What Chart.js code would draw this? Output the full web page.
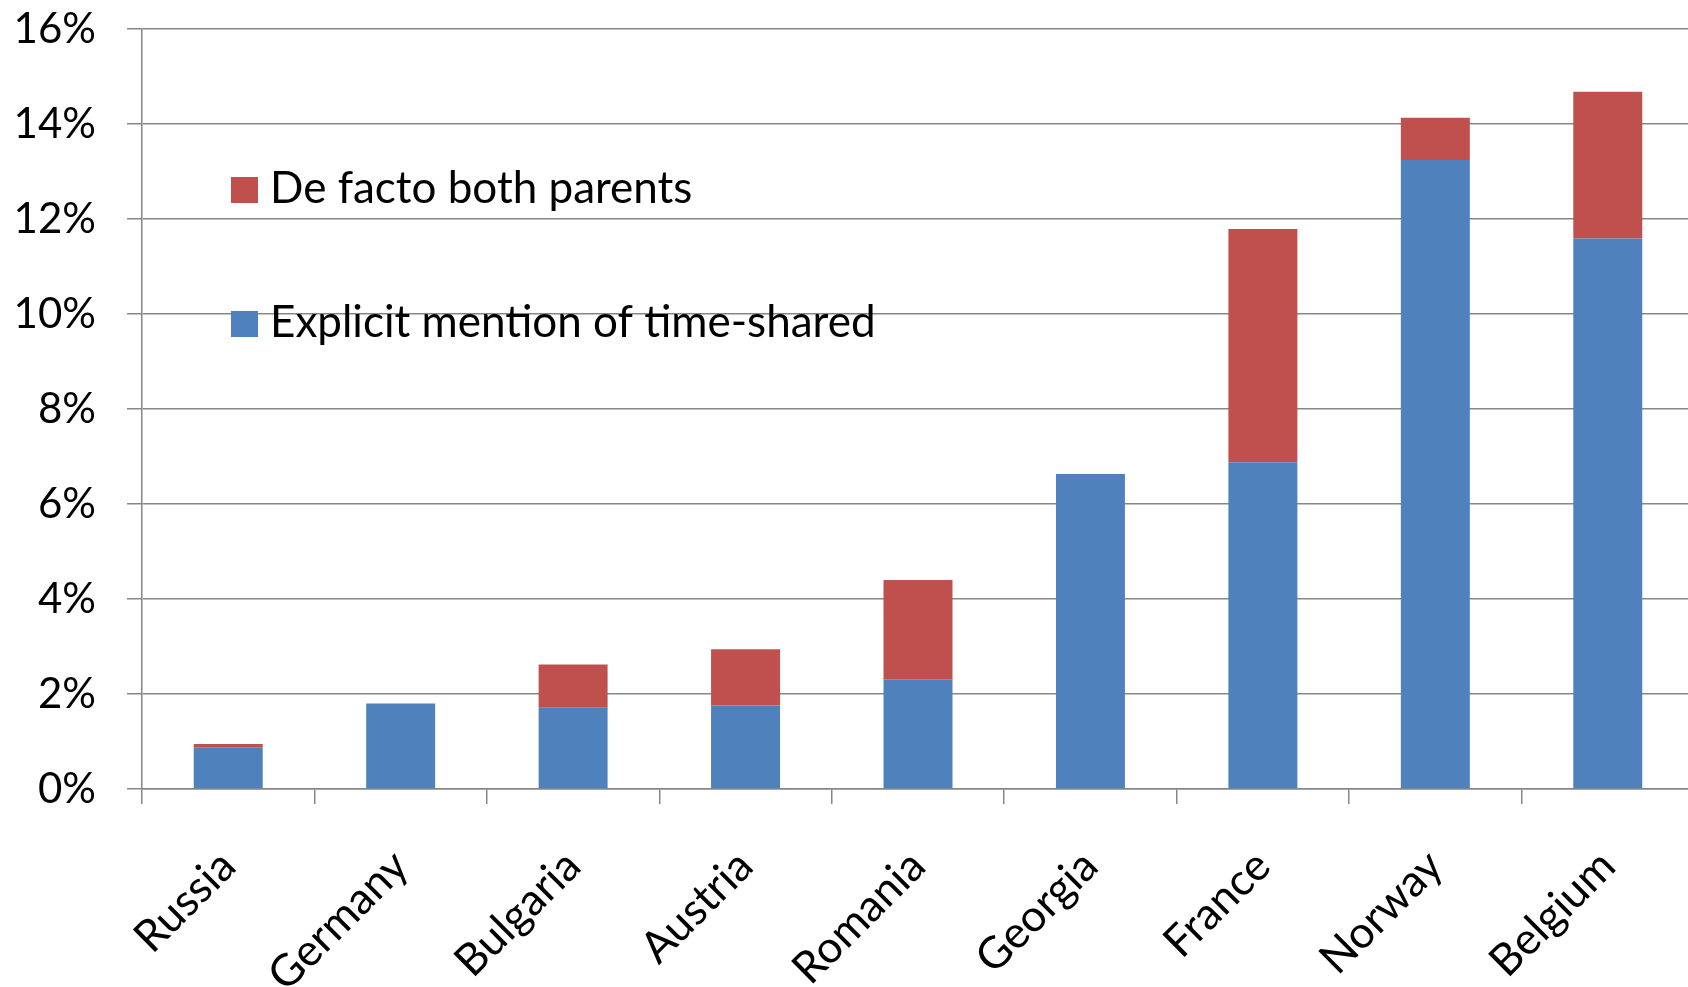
<!DOCTYPE html>
<html>
<head>
<meta charset="utf-8">
<script src="https://cdn.jsdelivr.net/npm/chart.js@4.4.1/dist/chart.umd.min.js"></script>
<style>
  html, body { margin: 0; padding: 0; background: #fff; overflow: hidden; }
  canvas { display: block; }
</style>
</head>
<body>
<canvas id="chart" width="1694" height="987"></canvas>
<script>
// Share of custody arrangements by country (percent)
const categories = ['Russia', 'Germany', 'Bulgaria', 'Austria', 'Romania', 'Georgia', 'France', 'Norway', 'Belgium'];
const explicitShare = [0.87, 1.80, 1.71, 1.76, 2.31, 6.63, 6.88, 13.24, 11.59];
const deFactoShare = [0.08, 0, 0.91, 1.18, 2.09, 0, 4.91, 0.89, 3.09];
const yTickLabels = ['0%', '2%', '4%', '6%', '8%', '10%', '12%', '14%', '16%'];

const FONT = 'Lato, "Open Sans", sans-serif';
const GRID = '#878787';

// Legend drawn inside the plot area, top series first
const insideLegend = {
  id: 'insideLegend',
  afterDraw(chart) {
    const ctx = chart.ctx;
    const area = chart.chartArea;
    const items = chart.data.datasets.slice().reverse();
    ctx.save();
    ctx.font = '44px ' + FONT;
    ctx.textBaseline = 'alphabetic';
    items.forEach((ds, i) => {
      const base = area.top + 174 + i * 134;
      ctx.fillStyle = ds.backgroundColor;
      ctx.fillRect(area.left + 89, base - 26, 27, 26);
      ctx.fillStyle = '#000';
      ctx.fillText(ds.label, area.left + 128, base);
    });
    ctx.restore();
  }
};

new Chart(document.getElementById('chart'), {
  type: 'bar',
  data: {
    labels: categories,
    datasets: [
      {
        label: 'Explicit mention of time-shared',
        data: explicitShare,
        backgroundColor: '#4F81BD',
        borderWidth: 0,
        barPercentage: 0.4,
        categoryPercentage: 1.0
      },
      {
        label: 'De facto both parents',
        data: deFactoShare,
        backgroundColor: '#C0504D',
        borderWidth: 0,
        barPercentage: 0.4,
        categoryPercentage: 1.0
      }
    ]
  },
  options: {
    responsive: false,
    animation: false,
    layout: { padding: { top: 29, right: 0, left: 0, bottom: 0 } },
    plugins: {
      legend: { display: false },
      tooltip: { enabled: false }
    },
    scales: {
      x: {
        stacked: true,
        grid: {
          offset: true,
          drawOnChartArea: false,
          drawTicks: true,
          tickLength: 15,
          color: GRID,
          lineWidth: 1.5
        },
        border: { color: GRID, width: 1.5 },
        ticks: {
          autoSkip: false,
          minRotation: 45,
          maxRotation: 45,
          padding: 36,
          color: '#000',
          font: { family: FONT, size: 44 }
        },
        afterFit(scale) { scale.height = 198; }
      },
      y: {
        stacked: true,
        min: 0,
        max: 16,
        grid: {
          color: GRID,
          lineWidth: 1.5,
          tickLength: 15
        },
        border: { color: GRID, width: 1.5 },
        ticks: {
          stepSize: 2,
          padding: 31,
          color: '#000',
          font: { family: FONT, size: 42 },
          callback: (value, index) => yTickLabels[index]
        },
        afterFit(scale) {
          scale.width = 142;
          // top edge of the plot is set by layout padding alone
          scale.paddingTop = 0;
          scale.paddingBottom = 0;
        }
      }
    }
  },
  plugins: [insideLegend]
});
</script>
</body>
</html>
